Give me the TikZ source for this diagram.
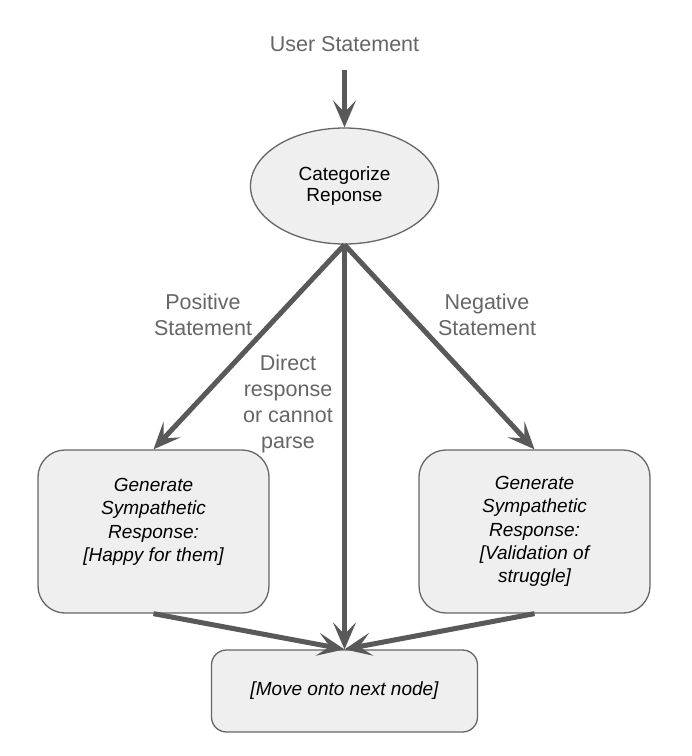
\documentclass[tikz,border=0pt]{standalone}
\usepackage{fontspec}
\setmainfont{Liberation Sans}
\usetikzlibrary{shapes.geometric,arrows.meta}
\definecolor{fillgray}{HTML}{EFEFEF}
\definecolor{edgegray}{HTML}{666666}
\definecolor{arrowgray}{HTML}{595959}
\definecolor{labelgray}{HTML}{666666}
\begin{document}
\begin{tikzpicture}[x=1pt,y=-1pt,
  lbl/.style={text=labelgray,font=\fontsize{21.5}{25.8}\selectfont,align=center,inner sep=0pt},
  flow/.style={draw=arrowgray,line width=5pt,-{Stealth[length=27pt,width=23pt,inset=12pt]}},
  catnode/.style={ellipse,draw=edgegray,line width=1.3pt,fill=fillgray,minimum width=188pt,minimum height=116pt,inner sep=0pt,align=center,font=\fontsize{19}{21.5}\selectfont},
  sidebox/.style={draw=edgegray,line width=1.3pt,fill=fillgray,rounded corners=27pt,minimum width=231pt,minimum height=163pt,inner sep=0pt,align=center,font=\fontsize{19}{23.3}\selectfont\itshape},
  endbox/.style={draw=edgegray,line width=1.3pt,fill=fillgray,rounded corners=15pt,minimum width=266pt,minimum height=82pt,inner sep=0pt,align=center,font=\fontsize{19}{23.3}\selectfont\itshape}
]
\useasboundingbox[fill=white] (0,0) rectangle (692,756);

\node[lbl] (U) at (344.5,44) {User Statement};
\node[catnode] (E) at (344.5,186) {Categorize\\Reponse};
\node[sidebox] (L) at (153.5,531.5) {Generate\\Sympathetic\\Response:\\{}[Happy for them]\\\mbox{}};
\node[sidebox] (R) at (534.5,531.5) {Generate\\Sympathetic\\Response:\\{}[Validation of\\struggle]};
\node[endbox] (B) at (344.5,691) {[Move onto next node]};

\node[lbl] (lp) at (203,315) {Positive\\Statement};
\node[lbl] (ln) at (487,315) {Negative\\Statement};
\node[lbl] (ld) at (288,404) {Direct\\response\\or cannot\\parse};

\draw[flow,shorten <=18pt] (U.south) -- (E.north);
\draw[flow] (E.south) -- (L.north);
\draw[flow] (E.south) -- (R.north);
\draw[flow] (E.south) -- (B.north);
\draw[flow] (L.south) -- (B.north);
\draw[flow] (R.south) -- (B.north);
\end{tikzpicture}
\end{document}
